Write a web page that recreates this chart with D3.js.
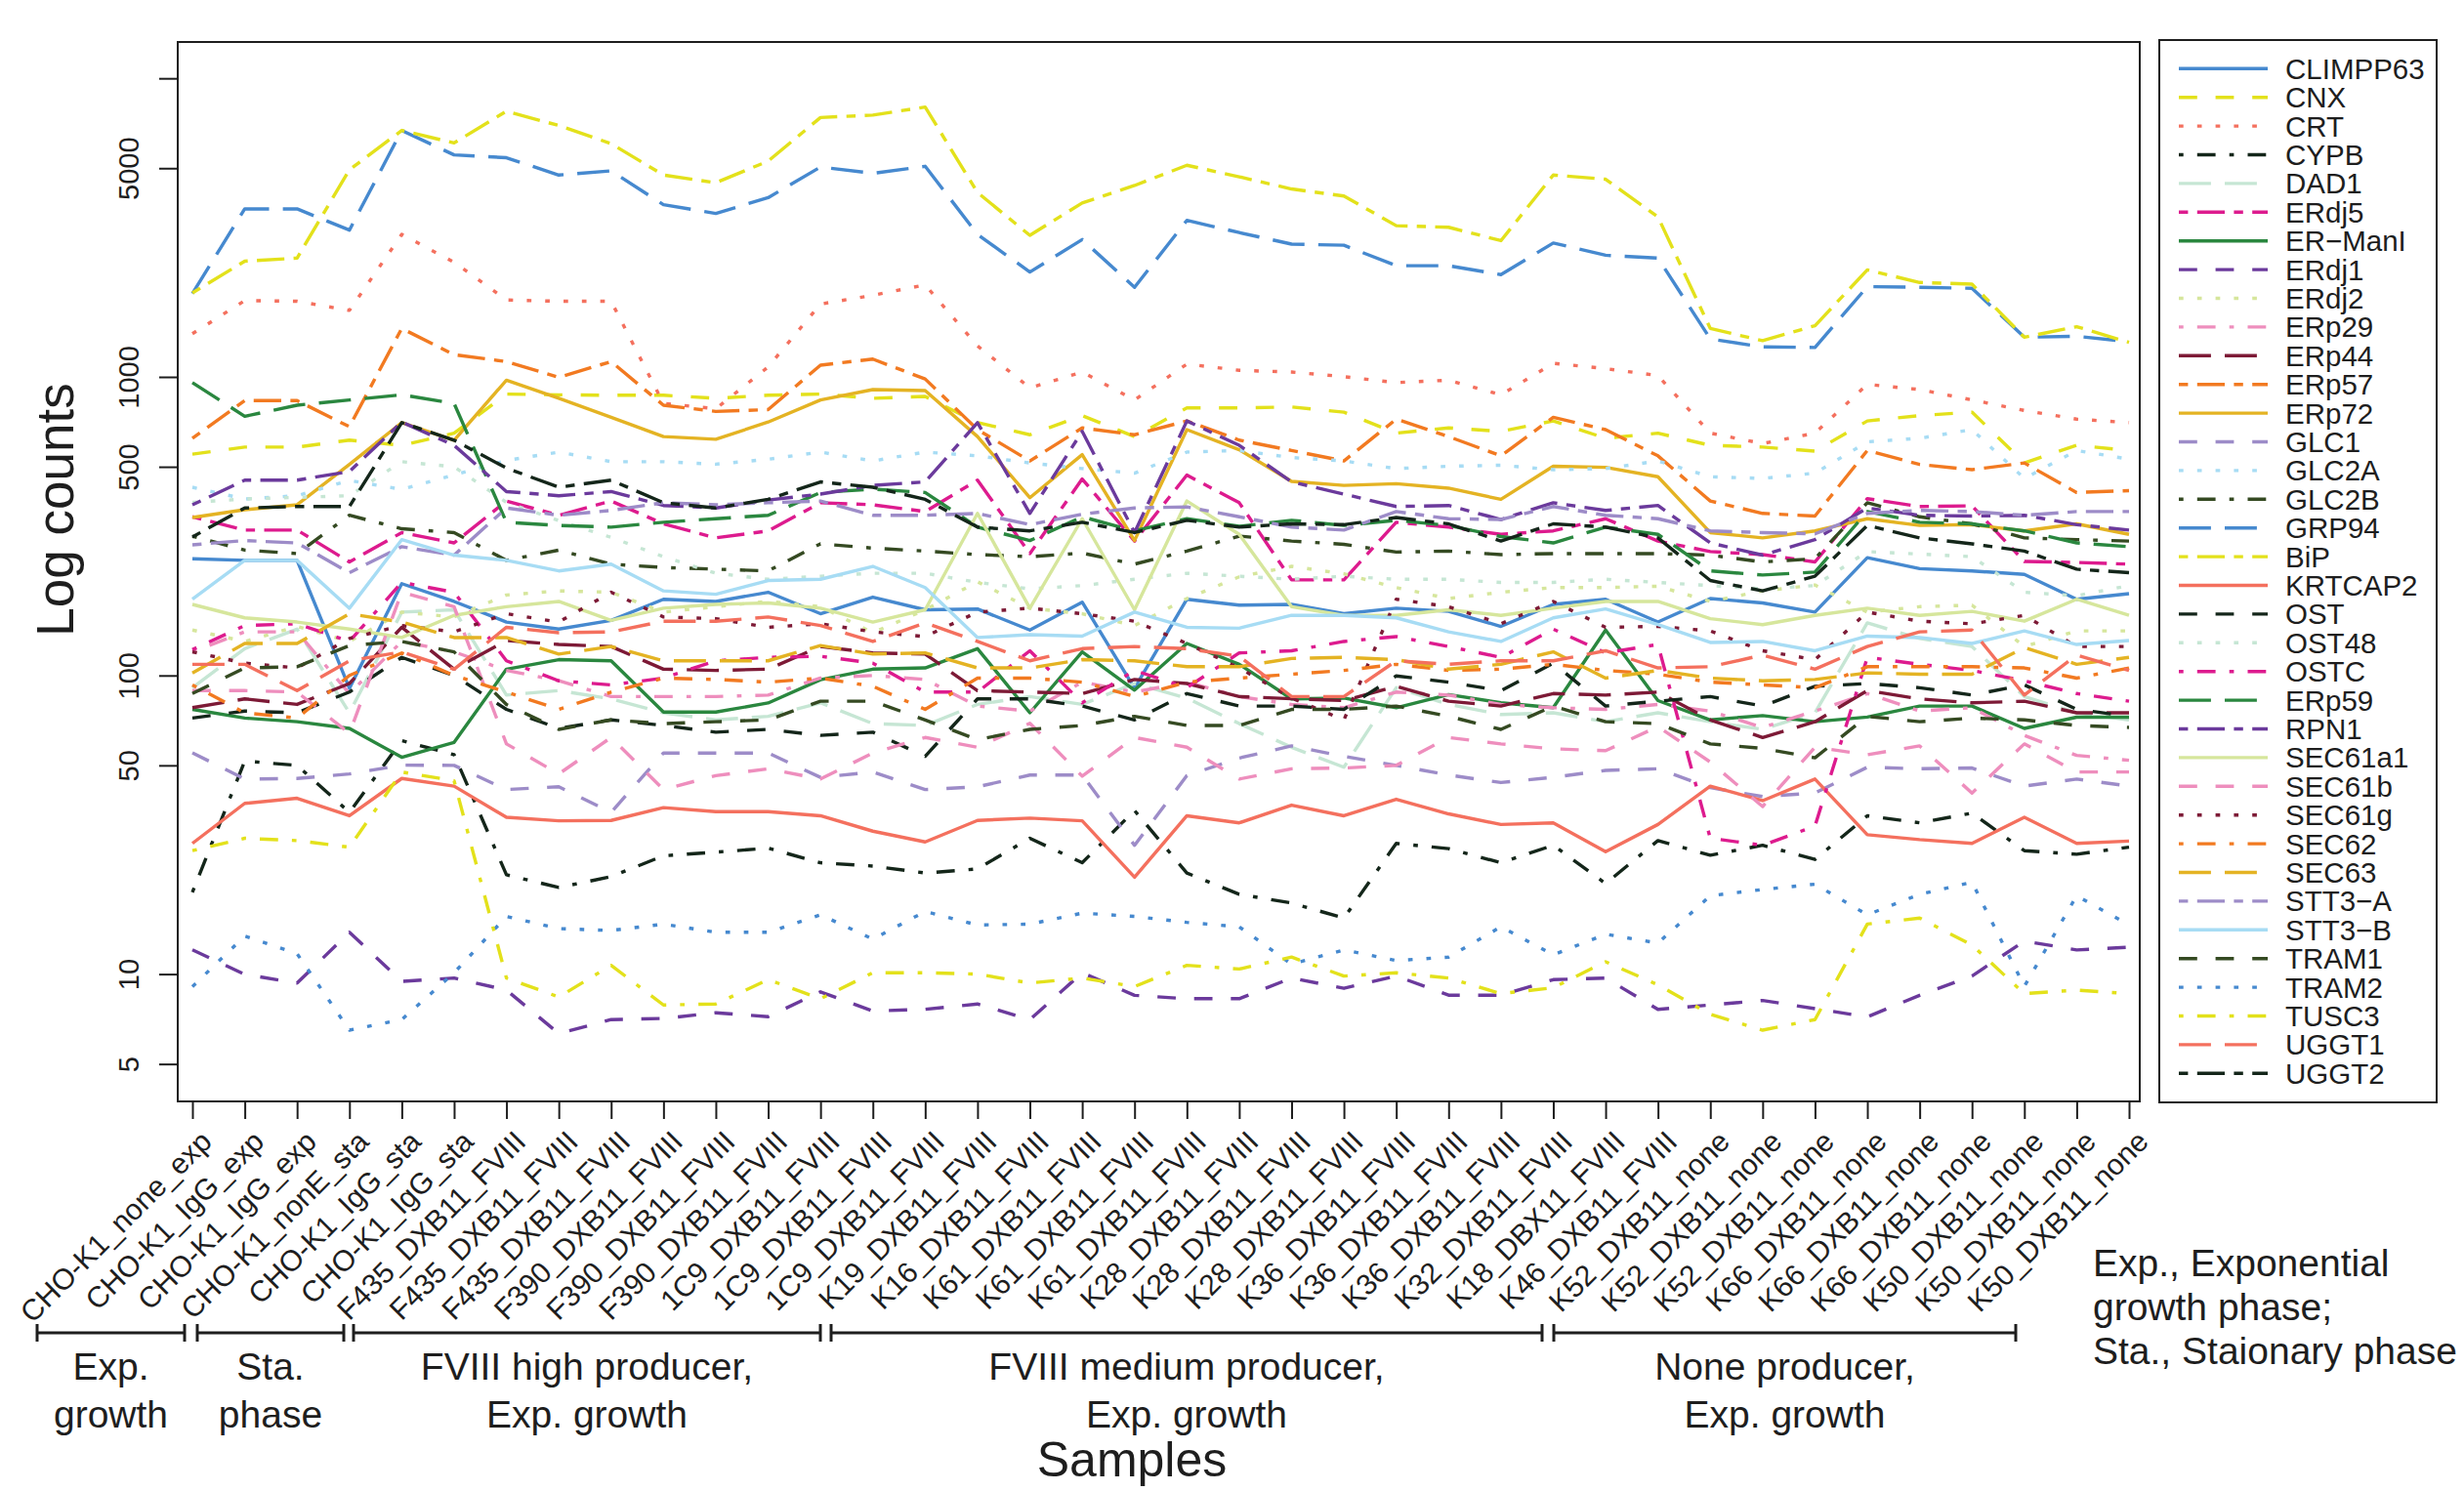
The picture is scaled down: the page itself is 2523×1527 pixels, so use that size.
<!DOCTYPE html>
<html>
<head>
<meta charset="utf-8">
<script src="https://cdn.jsdelivr.net/npm/d3@7"></script>
<style>
  body { margin: 0; background: #fff; }
  svg { display: block; font-family: "Liberation Sans", Arial, Helvetica, sans-serif; }
</style>
</head>
<body>
<script>
// Samples on the x axis (in order)
const samples = [
  "CHO-K1_none_exp", "CHO-K1_IgG_exp", "CHO-K1_IgG_exp", "CHO-K1_nonE_sta", "CHO-K1_IgG_sta", "CHO-K1_IgG_sta",
  "F435_DXB11_FVIII", "F435_DXB11_FVIII", "F435_DXB11_FVIII", "F390_DXB11_FVIII", "F390_DXB11_FVIII", "F390_DXB11_FVIII",
  "1C9_DXB11_FVIII", "1C9_DXB11_FVIII", "1C9_DXB11_FVIII", "K19_DXB11_FVIII", "K16_DXB11_FVIII",
  "K61_DXB11_FVIII", "K61_DXB11_FVIII", "K61_DXB11_FVIII", "K28_DXB11_FVIII", "K28_DXB11_FVIII", "K28_DXB11_FVIII",
  "K36_DXB11_FVIII", "K36_DXB11_FVIII", "K36_DXB11_FVIII", "K32_DXB11_FVIII", "K18_DBX11_FVIII", "K46_DXB11_FVIII",
  "K52_DXB11_none", "K52_DXB11_none", "K52_DXB11_none", "K66_DXB11_none", "K66_DXB11_none", "K66_DXB11_none",
  "K50_DXB11_none", "K50_DXB11_none", "K50_DXB11_none"
];

// Gene names, legend order
const genes = ["CLIMPP63", "CNX", "CRT", "CYPB", "DAD1", "ERdj5", "ER\u2212ManI", "ERdj1", "ERdj2", "ERp29",
  "ERp44", "ERp57", "ERp72", "GLC1", "GLC2A", "GLC2B", "GRP94", "BiP", "KRTCAP2", "OST", "OST48", "OSTC",
  "ERp59", "RPN1", "SEC61a1", "SEC61b", "SEC61g", "SEC62", "SEC63", "STT3\u2212A", "STT3\u2212B", "TRAM1",
  "TRAM2", "TUSC3", "UGGT1", "UGGT2"];

// Counts per gene, one value per sample
const CLIMPP63 = [246,243,243,90.6,203,177,151,143,153,180,177,190,161,183,166,167,142,176,90.6,180,172,173,161,168,164,146,173,180,151,181,175,163,248,228,224,218,180,188];
const CNX = [551,582,582,614,590,648,876,871,868,868,848,868,876,848,860,703,640,742,631,787,787,793,762,648,675,657,712,623,648,590,582,564,712,742,762,515,590,567];
const CRT = [1395,1801,1792,1670,3001,2421,1810,1792,1792,815,782,1080,1754,1876,2033,1270,919,1038,837,1104,1052,1038,1002,957,975,871,1110,1066,1010,648,598,648,944,907,837,772,722,703];
const CYPB = [18.8,51.7,50,34.8,60.5,54.3,21.5,19.5,21.2,24.9,25.6,26.4,23.6,23,21.8,22.5,28.5,23.6,35.3,21.8,18.5,17.3,15.4,27.4,26.3,23.6,27,20.1,28,25,27,24.2,33.9,32.1,34.6,25.9,25.2,26.6];
const DAD1 = [91,123,143,75,163,166,86,89,83.5,75,71,73,81,69,68,80,85,80,94,84,69,57.5,49.3,91,80,74,75,70,75,70,66,75,150,133,125,85,75,71];
const ERdj5 = [340,307,307,240,301,278,384,344,384,322,289,305,379,373,354,451,256,455,282,469,379,209,209,326,314,297,305,335,282,260,254,240,391,368,370,241,239,236];
const ER_ManI = [77,72,70,66.5,53.2,59.7,105,113,112,75.4,75.4,80.9,96.8,105,106,123,75,120,89.3,128,109,83.5,84,78,86.3,81,78,142,82.4,71,73.4,70,72.6,79,79,66.5,72.5,72.5];
const ERdj1 = [12.05,9.98,9.33,13.8,9.45,9.7,8.84,6.32,7.04,7.1,7.42,7.2,8.72,7.52,7.62,7.94,7.04,10.1,8.49,8.27,8.27,9.7,8.96,9.85,8.5,8.49,9.58,9.7,7.62,7.88,8.16,7.66,7.19,8.49,9.85,12.9,12.05,12.3];
const ERdj2 = [142,130,146,130,163,157,186,192,190,163,170,177,170,139,166,206,168,161,147,181,214,232,219,197,181,190,197,197,199,177,192,201,163,170,172,125,141,141];
const ERp29 = [120,140,140,87,130,120,104,96,85,85,85,86,98,100,97,79,76,95,88,95,85,80,78,88,86,80,78,77,80,76,67,76,87,76,78,63,54,52];
const ERp44 = [78,83.5,80,94,145,105,131,127,125,105,104,105,125,119,118,89,88,87,97,94,85,83.6,82.4,92,82,79,87,86,88,71,62,70,89,83.5,81,82,75,75];
const ERp57 = [623,833,833,681,1453,1187,1125,997,1125,804,766,777,1095,1147,984,666,523,675,640,712,614,567,523,722,631,544,732,666,544,384,349,342,567,509,489,515,410,416];
const ERp72 = [338,359,373,509,703,614,975,848,732,631,618,706,837,907,900,631,394,549,283,666,570,447,433,439,424,389,502,498,463,301,289,305,335,318,320,305,322,297];
const GLC1 = [55.1,45,45.2,46.8,50.1,50,41.5,42.4,34.8,55,55,55,45.6,47.5,41.5,42.4,46.4,46.4,27,46.2,52.9,58.1,53.6,50,46.4,43.8,45.6,48.1,48.7,42.1,39.3,40.4,49.3,48.7,49,42.6,45,42.6];
const GLC2A = [427,390,400,450,420,470,525,560,520,520,510,530,560,523,560,544,515,493,476,560,567,537,523,493,502,506,489,493,523,463,457,476,606,623,666,457,567,530];
const GLC2B = [293,263,256,344,310,301,243,263,236,230,227,224,276,267,261,254,250,257,236,261,293,282,275,259,261,254,256,256,256,253,240,246,379,340,322,289,285,282];
const GRP94 = [1901,3653,3653,3101,6690,5540,5420,4742,4898,3773,3528,3983,5045,4807,5073,3001,2245,2884,1995,3344,3043,2784,2760,2357,2357,2200,2808,2555,2500,1340,1260,1255,2006,1995,1980,1358,1368,1312];
const BiP = [1910,2441,2500,4938,6690,6074,7757,6947,6042,4742,4470,5280,7390,7530,8011,4146,2979,3824,4375,5115,4679,4259,4035,3210,3170,2860,4742,4592,3434,1453,1322,1484,2282,2071,2045,1358,1473,1305];
const KRTCAP2 = [27.4,37.3,38.8,33.9,45.2,42.6,33.5,32.6,32.7,36.1,35,35,33.9,30.1,27.7,32.7,33.3,32.6,21.1,33.9,32.1,36.8,33.9,38.5,34.4,31.7,32.1,25.7,31.7,42.6,38.1,45,29.3,28.2,27.4,33.5,27.4,27.9];
const OST = [72,76,75,88,115,100,77,66.5,71,68,64.6,66,63,64.6,53.6,83.5,83.5,79,71,87,79,79,77,99.7,95,89,110,79,82,85,79,92,94,91,86,93,77,73];
const OST48 = [380,390,395,400,520,500,380,330,290,250,220,210,215,220,220,205,195,200,210,220,215,210,215,210,210,205,205,210,205,200,195,200,260,255,250,190,185,200];
const OSTC = [122,147,149,130,205,190,112,96,93,98,112,115,116,110,88,88,121,81,104,91,119,121,130,135,125,115,143,119,127,28.5,27,31.3,115,109,104,96,87,82];
const ERp59 = [957,738,804,837,871,815,326,318,314,326,335,344,410,421,410,314,283,340,305,335,316,331,318,331,318,292,278,314,297,224,217,222,354,326,322,305,278,270];
const RPN1 = [373,451,451,482,706,590,413,400,413,371,364,387,405,433,445,703,349,657,301,712,590,445,405,368,371,333,379,357,371,278,253,285,364,344,342,344,320,307];
const SEC61a1 = [173,156,151,143,134,159,170,177,153,168,173,175,168,151,166,349,168,335,166,384,297,170,159,159,166,159,168,177,177,155,148,159,168,159,164,152,180,159];
const SEC61b = [89,89,88,64,190,170,59,46.8,62,41.5,46.2,48.7,45,55,62,57.5,69.2,46,62,57.5,45,48.7,49,50,62,59,56.8,56,67.4,51.3,36.4,57.5,54.3,58.1,40.4,59,47.5,47.5];
const SEC61g = [120,110,106,133,147,140,161,151,190,157,155,145,149,140,135,163,168,161,152,128,106,84,71,180,170,149,177,145,146,141,121,113,163,152,149,159,125,125];
const SEC62 = [93,75,72,100,119,100,88,77,88,98,97,95,98,92,77,98,98,95,85,95,98,101,104,109,104,105,109,104,101,95,93,91,107,107,107,106,98,106];
const SEC63 = [102,128,128,161,151,134,134,118,125,112,112,112,126,118,119,106,106,113,112,107,107,114,115,113,105,109,120,98,104,98,96,97,102,101,101,124,109,115];
const STT3_A = [274,283,278,221,270,253,364,344,357,379,373,379,384,344,344,349,320,347,364,367,340,314,307,354,335,333,368,344,335,305,301,298,349,357,354,344,354,354];
const STT3_B = [180,243,243,168,285,253,243,224,236,192,187,208,210,232,197,134,137,135.5,163,145,144,159,159,156,140,130,156,167,148,129,130,121,135.5,134,128,141,127,131];
const TRAM1 = [87,106,107,126,130,120,80,66,71,69,70,71,82,82,71,61,66,68,73,68,68,77,77,79,73,66,79,70,69,59,57,53,73,70,72,71,68,67];
const TRAM2 = [9.08,13.4,11.7,6.49,7.04,10.1,15.6,14.2,14,14.7,13.8,13.8,15.8,13.1,16.2,14.6,14.7,16,15.6,14.9,14.4,10.8,12.05,11.1,11.4,14.4,11.6,13.6,12.7,18.3,19.2,20,15.8,18.5,20.3,9.1,18.3,14.6];
const TUSC3 = [25.9,28.5,28,26.6,47.5,44.4,9.7,8.38,10.7,7.88,7.94,9.58,8.27,10.1,10.1,10,9.33,9.7,9.08,10.7,10.4,11.4,9.85,10.1,9.7,8.6,9,11,9.2,7.33,6.49,7.04,14.7,15.4,12.5,8.6,8.84,8.6];
const UGGT1 = [109,109,89,112,120,105,145,139,140,152,152,157,147,130,150,130,112,123,125,123,116,85,85,112,109,112,112,121,106,107,117,105,125,140,142,86,117,104];
const UGGT2 = [291,364,368,368,703,614,495,427,451,379,364,389,445,427,389,314,305,326,301,331,314,322,320,338,322,282,322,314,289,208,192,215,318,289,276,261,227,221];

const seriesValues = [CLIMPP63, CNX, CRT, CYPB, DAD1, ERdj5, ER_ManI, ERdj1, ERdj2, ERp29, ERp44, ERp57,
  ERp72, GLC1, GLC2A, GLC2B, GRP94, BiP, KRTCAP2, OST, OST48, OSTC, ERp59, RPN1, SEC61a1, SEC61b, SEC61g,
  SEC62, SEC63, STT3_A, STT3_B, TRAM1, TRAM2, TUSC3, UGGT1, UGGT2];

// y axis ticks (10000 has a tick but no label)
const yTicks = [5, 10, 50, 100, 500, 1000, 5000, 10000];
const yTickLabels = ["5", "10", "50", "100", "500", "1000", "5000", ""];

// sample groups under the axis
const groupLabels = [
  ["Exp.", "growth"],
  ["Sta.", "phase"],
  ["FVIII high producer,", "Exp. growth"],
  ["FVIII medium producer,", "Exp. growth"],
  ["None producer,", "Exp. growth"]
];
const footnote = ["Exp., Exponential", "growth phase;", "Sta., Staionary phase"];

// Styles: 16 colours recycled, 6 R line types recycled
const palette = ["#4689CF", "#E3E11B", "#F4705E", "#14261A", "#C6E6D4", "#DD1B8E", "#2A873F", "#6B3A9C",
  "#D6E69C", "#EE8EBD", "#7D1A36", "#F27A21", "#E4B323", "#9D8CC8", "#A7DCF4", "#354A22"];
const u = 4.7;
const dashes = [null, [4*u, 4*u], [u, 3*u], [u, 3*u, 4*u, 3*u], [7*u, 3*u], [2*u, 2*u, 6*u, 2*u]];

const width = 2523, height = 1527;
const plot = {left: 182, right: 2191, top: 43, bottom: 1128};
const ink = "#1e1e1e";

const svg = d3.select("body").append("svg")
  .attr("width", width)
  .attr("height", height);

const x = d3.scalePoint()
  .domain(d3.range(samples.length))
  .range([197, 2180]);

const y = d3.scaleLog()
  .domain([3.746, 13232])
  .range([plot.bottom, plot.top]);

svg.append("clipPath").attr("id", "plotclip")
  .append("rect")
  .attr("x", plot.left).attr("y", plot.top)
  .attr("width", plot.right - plot.left).attr("height", plot.bottom - plot.top);

// Lines
const line = d3.line()
  .x((d, i) => x(i))
  .y(d => y(d));

const lines = svg.append("g").attr("clip-path", "url(#plotclip)");
seriesValues.forEach((vals, k) => {
  const dash = dashes[k % 6];
  lines.append("path")
    .datum(vals)
    .attr("d", line)
    .attr("fill", "none")
    .attr("stroke", palette[k % 16])
    .attr("stroke-width", 3.4)
    .attr("stroke-linejoin", "round")
    .attr("stroke-dasharray", dash ? dash.join(",") : null);
});

// Plot box
svg.append("rect")
  .attr("x", plot.left).attr("y", plot.top)
  .attr("width", plot.right - plot.left).attr("height", plot.bottom - plot.top)
  .attr("fill", "none").attr("stroke", ink).attr("stroke-width", 2);

// Y axis
const yAxis = svg.append("g")
  .attr("transform", `translate(${plot.left},0)`)
  .call(d3.axisLeft(y).tickValues(yTicks).tickSize(19).tickFormat((d, i) => yTickLabels[i]));
yAxis.select(".domain").remove();
yAxis.selectAll(".tick line").attr("stroke", ink).attr("stroke-width", 2);
yAxis.selectAll(".tick text")
  .attr("x", 0).attr("dy", 0)
  .attr("transform", "translate(-40,0) rotate(-90)")
  .attr("text-anchor", "middle")
  .attr("font-size", 29)
  .attr("font-family", "Liberation Sans, Arial, sans-serif")
  .attr("fill", ink);

// X axis
const xAxis = svg.append("g")
  .attr("transform", `translate(0,${plot.bottom})`)
  .call(d3.axisBottom(x).tickSize(18).tickFormat(i => samples[i]));
xAxis.select(".domain").remove();
xAxis.selectAll(".tick line").attr("stroke", ink).attr("stroke-width", 2);
xAxis.selectAll(".tick text")
  .attr("x", 0).attr("y", 0).attr("dy", 0)
  .attr("transform", "translate(21,43) rotate(-45)")
  .attr("text-anchor", "end")
  .attr("font-size", 30)
  .attr("font-family", "Liberation Sans, Arial, sans-serif")
  .attr("fill", ink);

// Axis titles
svg.append("text")
  .attr("transform", "translate(75,522) rotate(-90)")
  .attr("text-anchor", "middle")
  .attr("font-size", 53)
  .attr("fill", ink)
  .text("Log counts");

svg.append("text")
  .attr("x", 1159).attr("y", 1512)
  .attr("text-anchor", "middle")
  .attr("font-size", 50)
  .attr("fill", ink)
  .text("Samples");

// Group brackets
const brackets = [[38, 189], [202, 352], [362, 840], [851, 1579], [1591, 2064]];
const bg = svg.append("g").attr("stroke", ink).attr("stroke-width", 3);
brackets.forEach(([a, b], i) => {
  bg.append("line").attr("x1", a).attr("x2", b).attr("y1", 1365).attr("y2", 1365);
  bg.append("line").attr("x1", a).attr("x2", a).attr("y1", 1356).attr("y2", 1374);
  bg.append("line").attr("x1", b).attr("x2", b).attr("y1", 1356).attr("y2", 1374);
  const t = svg.append("text")
    .attr("text-anchor", "middle")
    .attr("font-size", 39)
    .attr("fill", ink);
  groupLabels[i].forEach((s, j) => {
    t.append("tspan").attr("x", (a + b) / 2).attr("y", 1413 + j * 49).text(s);
  });
});

// Footnote
const fn = svg.append("text").attr("font-size", 39).attr("fill", ink);
footnote.forEach((s, j) => {
  fn.append("tspan").attr("x", 2143).attr("y", 1307 + j * 45).text(s);
});

// Legend
const legend = svg.append("g");
legend.append("rect")
  .attr("x", 2211).attr("y", 41).attr("width", 284).attr("height", 1088)
  .attr("fill", "#fff").attr("stroke", ink).attr("stroke-width", 2);
genes.forEach((g, k) => {
  const ly = 70.3 + k * 29.4;
  const dash = dashes[k % 6];
  legend.append("line")
    .attr("x1", 2231).attr("x2", 2322).attr("y1", ly).attr("y2", ly)
    .attr("stroke", palette[k % 16])
    .attr("stroke-width", 3.4)
    .attr("stroke-dasharray", dash ? dash.join(",") : null);
  legend.append("text")
    .attr("x", 2340).attr("y", ly)
    .attr("dominant-baseline", "central")
    .attr("font-size", 29.5)
    .attr("fill", ink)
    .text(g);
});
</script>
</body>
</html>
